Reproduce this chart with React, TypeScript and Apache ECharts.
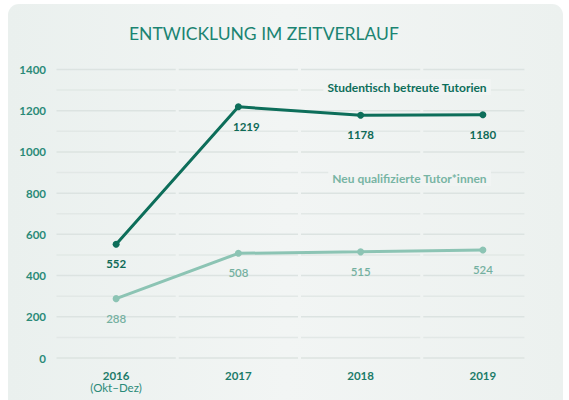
import React, { useEffect, useRef } from "react";
import * as echarts from "echarts";

const categories = ["2016", "2017", "2018", "2019"];
const categorySubLabels = ["(Okt–Dez)", "", "", ""];
const tutorien = [552, 1219, 1178, 1180];
const tutorInnen = [288, 508, 515, 524];
const yMin = 0;
const yMax = 1400;
const yLabelStep = 200;
const gridStep = 100;
const titleText = "ENTWICKLUNG IM ZEITVERLAUF";
const seriesNames = ["Studentisch betreute Tutorien", "Neu qualifizierte Tutor*innen"];

const DARK = "#0d6e5a";
const LIGHT = "#8cc4b4";
const TEAL = "#2a8a78";
const FONT = "Lato, 'Noto Sans', sans-serif";

export default function App() {
  const ref = useRef<HTMLDivElement>(null);

  useEffect(() => {
    if (!ref.current) return;
    const chart = echarts.init(ref.current, null, { renderer: "svg" });

    const gridValues: number[] = [];
    for (let v = yMin; v <= yMax; v += gridStep) gridValues.push(v);

    const option: any = {
      animation: false,
      backgroundColor: "#ffffff",
      textStyle: { fontFamily: FONT },
      graphic: [
        {
          type: "rect",
          z: -10,
          silent: true,
          shape: { x: 8, y: 4, width: 555, height: 420, r: 11 },
          style: {
            fill: {
              type: "linear",
              x: 0,
              y: 0,
              x2: 1,
              y2: 0,
              colorStops: [
                { offset: 0, color: "#eaf0ee" },
                { offset: 0.5, color: "#f2f5f4" },
                { offset: 1, color: "#ecf1ef" },
              ],
            },
          },
        },
        {
          type: "text",
          left: 129,
          top: 24,
          style: {
            text: titleText,
            fill: "#1b8472",
            font: `normal 17.5px ${FONT}`,
          },
        },
        {
          type: "text",
          right: 78,
          top: 79,
          z: 10,
          style: {
            text: seriesNames[0],
            fill: DARK,
            font: `bold 12px ${FONT}`,
            backgroundColor: "#f1f4f3",
            padding: [2, 4, 2, 4],
          },
        },
        {
          type: "text",
          right: 78,
          top: 170,
          z: 10,
          style: {
            text: seriesNames[1],
            fill: "#78b5a4",
            font: `bold 12px ${FONT}`,
            backgroundColor: "#f1f4f3",
            padding: [2, 4, 2, 4],
          },
        },
      ],
      grid: { left: 55, right: 25, top: 69.5, bottom: 42, containLabel: false },
      xAxis: {
        type: "category",
        data: categories,
        boundaryGap: true,
        axisLine: { show: false },
        axisTick: { show: false },
        splitLine: { show: false },
        axisLabel: {
          margin: 11,
          formatter: (v: string, i: number) =>
            categorySubLabels[i] ? `{y|${v}}\n{s|${categorySubLabels[i]}}` : `{y|${v}}`,
          rich: {
            y: { fontFamily: FONT, fontWeight: "bold", fontSize: 11.5, color: "#1c7b69", lineHeight: 12 },
            s: { fontFamily: FONT, fontWeight: "normal", fontSize: 11.5, color: TEAL, lineHeight: 12 },
          },
        },
      },
      yAxis: {
        type: "value",
        min: yMin,
        max: yMax,
        interval: yLabelStep,
        axisLine: { show: false },
        axisTick: { show: false },
        splitLine: { show: false },
        axisLabel: {
          margin: 9,
          color: TEAL,
          fontWeight: "bold",
          fontSize: 11.5,
          fontFamily: FONT,
          formatter: (v: number) => String(v),
        },
      },
      series: [
        {
          type: "custom",
          silent: true,
          z: 0,
          data: categories.map((_, i) => [i]),
          encode: { x: 0 },
          renderItem: (params: any, api: any) => {
            const idx = api.value(0);
            const band = api.size([1, 0])[0];
            const children: any[] = [];
            const last = idx === categories.length - 1;
            gridValues.forEach((v) => {
              const p = api.coord([idx, v]);
              const x0 = p[0] - band / 2 + 1.5;
              const x1 = last ? p[0] + band * 0.34 : p[0] + band / 2 - 1.5;
              children.push({
                type: "line",
                shape: { x1: x0, y1: p[1], x2: x1, y2: p[1] },
                style: { stroke: v % yLabelStep === 0 ? "#dce3e1" : "#e2e8e6", lineWidth: 1.5 },
              });
            });
            return { type: "group", children };
          },
        },
        {
          name: seriesNames[1],
          type: "line",
          z: 2,
          data: tutorInnen,
          symbol: "circle",
          symbolSize: 7,
          lineStyle: { color: LIGHT, width: 3 },
          itemStyle: { color: LIGHT },
          label: {
            show: true,
            position: "bottom",
            distance: 10,
            color: "#74b0a0",
            fontSize: 11.5,
            fontFamily: FONT,
            fontWeight: 600,
          },
        },
        {
          name: seriesNames[0],
          type: "line",
          z: 3,
          data: tutorien.map((v, i) =>
            i === 1 ? { value: v, label: { offset: [8, 0] } } : v
          ),
          symbol: "circle",
          symbolSize: 7,
          lineStyle: { color: DARK, width: 3 },
          itemStyle: { color: DARK },
          label: {
            show: true,
            position: "bottom",
            distance: 10,
            color: "#0f6a57",
            fontSize: 11.5,
            fontFamily: FONT,
            fontWeight: "bold",
          },
        },
      ],
    };

    chart.setOption(option);
    return () => chart.dispose();
  }, []);

  return (
    <div
      ref={ref}
      style={{ position: "fixed", left: 0, top: 0, width: 569, height: 400 }}
    />
  );
}
